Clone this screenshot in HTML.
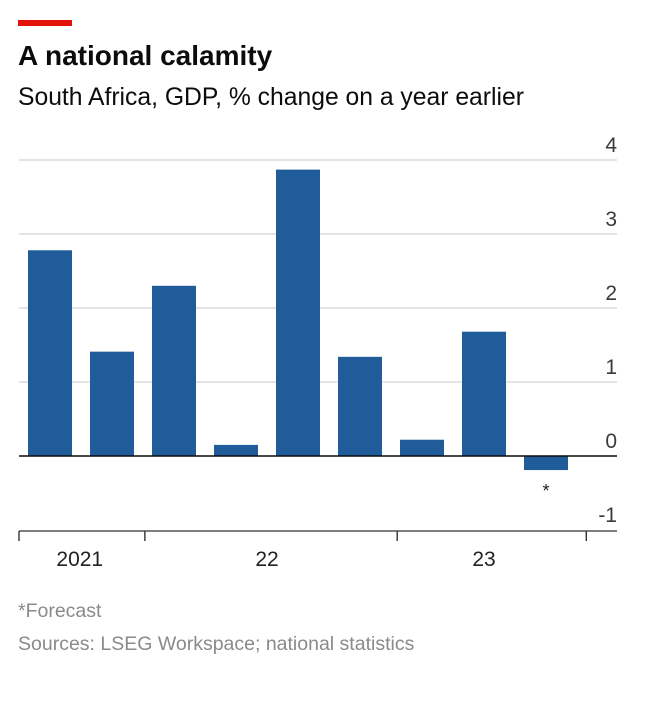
<!DOCTYPE html>
<html><head><meta charset="utf-8">
<style>
html,body{margin:0;padding:0;background:#fff;}
body{width:656px;height:702px;position:relative;overflow:hidden;font-family:"Liberation Sans",sans-serif;}
.t{position:absolute;white-space:nowrap;}
</style></head>
<body>
<div style="position:absolute;left:18px;top:20px;width:54px;height:6px;background:#e3120b"></div>
<div class="t" style="left:18px;top:40px;font-size:28px;font-weight:bold;color:#0c0c0c">A national calamity</div>
<div class="t" style="left:18px;top:84px;font-size:24.7px;color:#0c0c0c">South Africa, GDP, % change on a year earlier</div>
<svg id="chart" width="656" height="600" style="position:absolute;left:0;top:0"></svg>
<div class="t" style="left:18px;top:600px;font-size:19.5px;color:#8a8a8a">*Forecast</div>
<div class="t" style="left:18px;top:633px;font-size:19.5px;color:#8a8a8a">Sources: LSEG Workspace; national statistics</div>
<script>
const categories=["2021Q2","2021Q3","2021Q4","2022Q1","2022Q2","2022Q3","2022Q4","2023Q1","2023Q2"];
const values=[2.78,1.41,2.30,0.15,3.87,1.34,0.22,1.68,-0.19];
const yTicks=[4,3,2,1,0,-1];
const yearLabels=["2021","22","23"];
const NS="http://www.w3.org/2000/svg";
const svg=document.getElementById('chart');
function y(v){return 456-74*v;}
function x(i){return 28+62*i;}
const bw=44;
function mk(t,a){const e=document.createElementNS(NS,t);for(const k in a)e.setAttribute(k,a[k]);svg.appendChild(e);return e;}
yTicks.forEach(v=>{
 if(v!==0 && v!==-1){
  const l=mk('line',{x1:19,x2:617,y1:y(v),y2:y(v),stroke:'#d4d4d4','stroke-width':1.3});
  
  
 }
 const t=mk('text',{x:617,y:y(v)-8,'text-anchor':'end','font-size':21,fill:'#3a3a3a','font-family':'Liberation Sans, sans-serif'});
 t.textContent=v;
 
 
});
values.forEach((v,i)=>{
 const top=Math.min(y(v),y(0)),h=Math.abs(y(v)-y(0));
 const r=mk('rect',{x:x(i),y:top,width:bw,height:h,fill:'#1f5c99'});
 
 
});
const z=mk('line',{x1:19,x2:617,y1:y(0),y2:y(0),stroke:'#0c0c0c','stroke-width':1.4});


const star=mk('text',{x:x(values.length-1)+bw/2,y:y(values[values.length-1])+27,'text-anchor':'middle','font-size':18,fill:'#222'});
star.textContent='*';


const ax=mk('line',{x1:19,x2:617,y1:531,y2:531,stroke:'#333','stroke-width':1.3});


const tickIdx=[-0.5,1.53,5.6,8.65];
tickIdx.forEach(k=>{
 const tx=x(k)+bw/2;
 const l=mk('line',{x1:tx,x2:tx,y1:531,y2:541,stroke:'#333','stroke-width':1.4});
 
 
});
const labelIdx=[0.48,3.5,7.0];
yearLabels.forEach((s,i)=>{
 const t=mk('text',{x:x(labelIdx[i])+bw/2,y:566,'text-anchor':'middle','font-size':21,fill:'#222'});
 t.textContent=s;
 
 
});
</script>
</body></html>
